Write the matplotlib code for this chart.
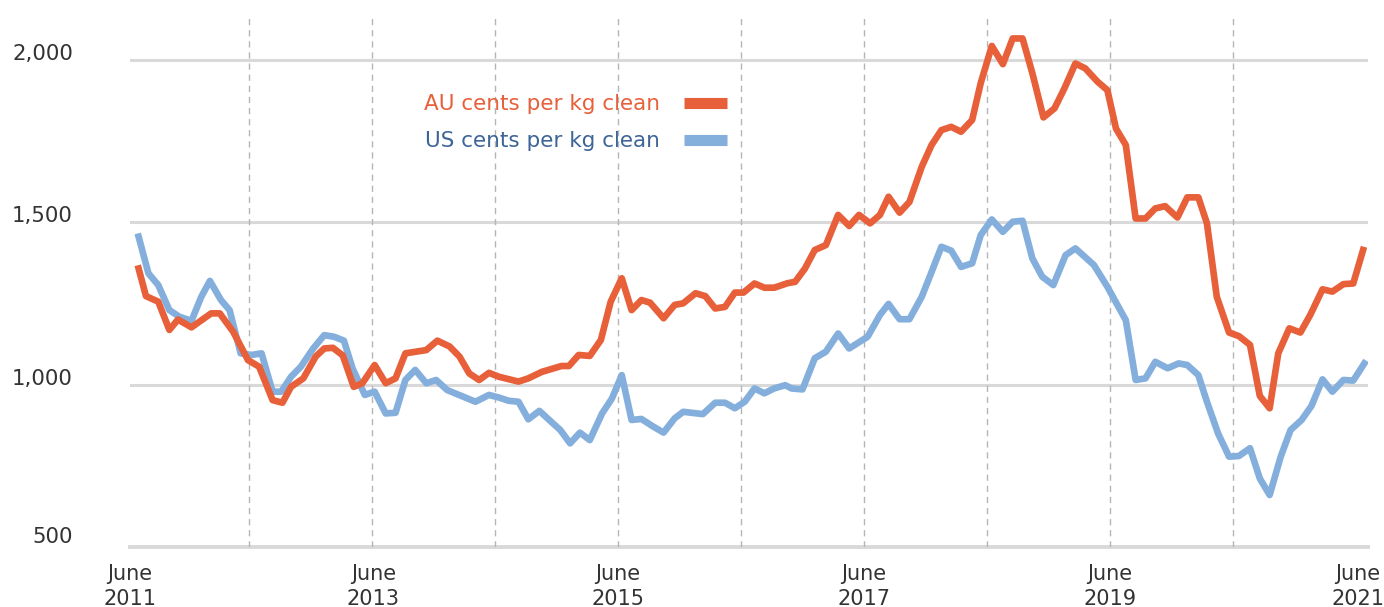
import matplotlib
matplotlib.use("Agg")
import matplotlib.pyplot as plt
import numpy as np

plt.rcParams['font.family'] = ['DejaVu Sans']

# AU cents per kg clean (decimal year, value)
au_dates = [2011.52, 2011.58, 2011.68, 2011.77, 2011.84, 2011.95, 2012.11, 2012.18, 2012.29, 2012.41,
            2012.50, 2012.61, 2012.69, 2012.76, 2012.86, 2012.96, 2013.03, 2013.10, 2013.18, 2013.27,
            2013.34, 2013.44, 2013.53, 2013.61, 2013.69, 2013.86, 2013.95, 2014.05, 2014.13, 2014.21,
            2014.29, 2014.37, 2014.45, 2014.61, 2014.69, 2014.80, 2014.96, 2015.02, 2015.10, 2015.19,
            2015.28, 2015.36, 2015.45, 2015.53, 2015.61, 2015.68, 2015.79, 2015.88, 2015.95, 2016.05,
            2016.13, 2016.21, 2016.29, 2016.37, 2016.44, 2016.53, 2016.61, 2016.69, 2016.80, 2016.86,
            2016.94, 2017.02, 2017.11, 2017.21, 2017.30, 2017.38, 2017.47, 2017.55, 2017.62, 2017.71,
            2017.79, 2017.89, 2017.97, 2018.05, 2018.13, 2018.21, 2018.30, 2018.37, 2018.46, 2018.55,
            2018.63, 2018.71, 2018.79, 2018.88, 2018.97, 2019.05, 2019.14, 2019.22, 2019.32, 2019.40,
            2019.47, 2019.55, 2019.63, 2019.71, 2019.79, 2019.87, 2019.97, 2020.05, 2020.14, 2020.21,
            2020.29, 2020.39, 2020.47, 2020.56, 2020.64, 2020.72, 2020.79, 2020.88, 2020.97, 2021.05,
            2021.15, 2021.23, 2021.32, 2021.40, 2021.48]
au_vals = [1357, 1272, 1255, 1168, 1200, 1176, 1219, 1219, 1162, 1075,
           1055, 952, 944, 993, 1019, 1086, 1111, 1113, 1090, 993,
           1004, 1060, 1004, 1019, 1096, 1106, 1135, 1117, 1086, 1034,
           1014, 1036, 1024, 1009, 1019, 1039, 1057, 1057, 1091, 1088,
           1137, 1255, 1327, 1229, 1260, 1252, 1204, 1245, 1250, 1281,
           1272, 1234, 1239, 1283, 1283, 1311, 1298, 1298, 1312, 1316,
           1357, 1414, 1429, 1522, 1488, 1522, 1496, 1522, 1578, 1529,
           1562, 1670, 1737, 1783, 1793, 1778, 1814, 1928, 2042, 1986,
           2065, 2065, 1958, 1822, 1850, 1911, 1988, 1973, 1932, 1906,
           1788, 1737, 1511, 1511, 1542, 1549, 1514, 1576, 1576, 1496,
           1270, 1160, 1149, 1122, 965, 927, 1096, 1173, 1160, 1214,
           1293, 1286, 1309, 1311, 1414]

# US cents per kg clean
us_dates = [2011.52, 2011.60, 2011.68, 2011.77, 2011.85, 2011.95, 2012.03, 2012.10, 2012.19, 2012.26,
            2012.35, 2012.44, 2012.52, 2012.61, 2012.68, 2012.76, 2012.84, 2012.94, 2013.03, 2013.11,
            2013.19, 2013.26, 2013.36, 2013.44, 2013.53, 2013.61, 2013.69, 2013.77, 2013.86, 2013.94,
            2014.03, 2014.26, 2014.37, 2014.45, 2014.53, 2014.61, 2014.69, 2014.78, 2014.86, 2014.95,
            2015.03, 2015.11, 2015.19, 2015.29, 2015.37, 2015.45, 2015.53, 2015.61, 2015.70, 2015.79,
            2015.88, 2015.95, 2016.11, 2016.21, 2016.29, 2016.37, 2016.45, 2016.53, 2016.61, 2016.69,
            2016.78, 2016.83, 2016.92, 2017.02, 2017.11, 2017.21, 2017.30, 2017.45, 2017.55, 2017.62,
            2017.71, 2017.79, 2017.89, 2017.95, 2018.05, 2018.13, 2018.21, 2018.30, 2018.37, 2018.46,
            2018.55, 2018.63, 2018.71, 2018.79, 2018.87, 2018.96, 2019.06, 2019.14, 2019.29, 2019.40,
            2019.55, 2019.63, 2019.71, 2019.79, 2019.89, 2019.98, 2020.05, 2020.14, 2020.21, 2020.30,
            2020.39, 2020.47, 2020.56, 2020.64, 2020.72, 2020.81, 2020.89, 2020.98, 2021.06, 2021.15,
            2021.23, 2021.32, 2021.40, 2021.49]
us_vals = [1455, 1342, 1306, 1229, 1209, 1196, 1270, 1319, 1260, 1229,
           1096, 1091, 1096, 978, 978, 1024, 1055, 1111, 1152, 1147,
           1135, 1050, 968, 978, 911, 913, 1014, 1045, 1004, 1014,
           983, 947, 968, 960, 950, 947, 893, 919, 891, 860,
           819, 852, 829, 911, 957, 1029, 891, 894, 872, 852,
           896, 916, 909, 944, 944, 927, 947, 988, 973, 988,
           998, 988, 985, 1081, 1101, 1157, 1111, 1147, 1214, 1248,
           1201, 1201, 1270, 1327, 1424, 1412, 1362, 1373, 1460, 1508,
           1470, 1501, 1504, 1388, 1332, 1306, 1398, 1419, 1368, 1301,
           1198, 1014, 1019, 1070, 1050, 1065, 1060, 1029, 947, 850,
           778, 780, 804, 711, 660, 778, 860, 891, 934, 1016,
           978, 1014, 1012, 1065]

year_lines = [2012.42, 2013.42, 2014.42, 2015.42, 2016.42, 2017.42, 2018.42, 2019.42, 2020.42]
tick_pos = [2011.45, 2013.43, 2015.42, 2017.42, 2019.42, 2021.44]
tick_labels = ["June\n2011", "June\n2013", "June\n2015", "June\n2017", "June\n2019", "June\n2021"]
y_ticks = [500, 1000, 1500, 2000]
y_labels = ["500", "1,000", "1,500", "2,000"]

au_color = "#e7603a"
us_color = "#84afdc"
grid_color = "#d9d9d9"

fig = plt.figure(figsize=(13.84, 6.07), dpi=100)
ax = fig.add_axes([130 / 1384, 1 - 547 / 607, 1238 / 1384, 542 / 607])

for yv in y_ticks[1:]:
    ax.axhline(yv, color=grid_color, lw=2.2, zorder=1)
ax.axhline(500, color=grid_color, lw=2.8, zorder=1, clip_on=False)
ax.vlines(year_lines, 500, 2140, colors="#b5b5b5", lw=1.0, linestyles=(0, (4.5, 3.5)), zorder=1)

ax.plot(us_dates, us_vals, color=us_color, lw=4.8, solid_joinstyle="round", zorder=3)
ax.plot(au_dates, au_vals, color=au_color, lw=4.8, solid_joinstyle="round", zorder=4)

ax.set_xlim(2011.476, 2021.52)
ax.set_ylim(500, 2168)
for s in ax.spines.values():
    s.set_visible(False)

ax.set_yticks(y_ticks)
ax.set_yticklabels(y_labels)
for lab in ax.get_yticklabels():
    lab.set_verticalalignment("bottom" if lab.get_text() == "500" else "baseline")
ax.tick_params(axis="y", length=0, pad=41, labelsize=15.3, labelcolor="#333333")
ax.set_xticks(tick_pos)
ax.set_xticklabels(tick_labels, linespacing=1.35)
ax.tick_params(axis="x", length=0, pad=12, labelsize=15, labelcolor="#333333")

# legend: text on the left, thick bar on the right
h_au = plt.Line2D([], [], color=au_color, lw=8, solid_capstyle="butt")
h_us = plt.Line2D([], [], color=us_color, lw=8, solid_capstyle="butt")
leg = ax.legend([h_au, h_us], ["AU cents per kg clean", "US cents per kg clean"],
                markerfirst=False, frameon=False, fontsize=15.5, handlelength=2.0,
                handletextpad=1.1, labelspacing=0.78, loc="upper right",
                borderpad=0, borderaxespad=0,
                bbox_to_anchor=((727 - 130) / 1238, 1 - (94.5 - 5) / 542))
leg.get_texts()[0].set_color(au_color)
leg.get_texts()[1].set_color("#3d6597")
for t in leg.get_texts():
    t.set_ha("right")

fig.savefig("out.png", dpi=100)
